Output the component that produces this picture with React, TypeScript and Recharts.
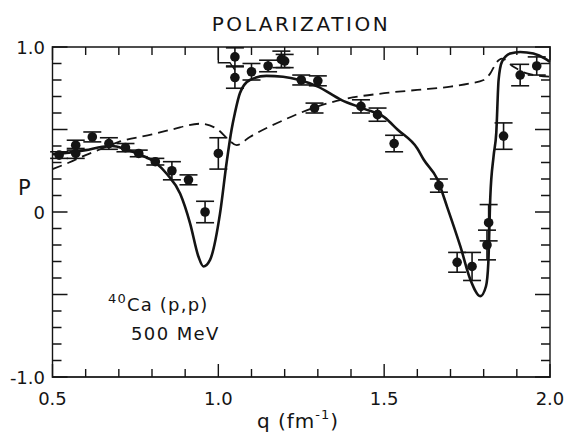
import { ComposedChart, ErrorBar, Line, Scatter, XAxis, YAxis } from "recharts";

// q (fm^-1), P
const solidCurve = [
  { q: 0.5, p: 0.35 }, { q: 0.55, p: 0.36 }, { q: 0.6, p: 0.375 }, { q: 0.65, p: 0.395 },
  { q: 0.68, p: 0.4 }, { q: 0.72, p: 0.38 }, { q: 0.76, p: 0.35 }, { q: 0.81, p: 0.3 },
  { q: 0.845, p: 0.23 }, { q: 0.885, p: 0.11 }, { q: 0.915, p: -0.07 }, { q: 0.94, p: -0.27 },
  { q: 0.955, p: -0.33 }, { q: 0.975, p: -0.29 }, { q: 1.005, p: -0.01 }, { q: 1.025, p: 0.3 },
  { q: 1.04, p: 0.5 }, { q: 1.05, p: 0.6 }, { q: 1.065, p: 0.72 }, { q: 1.095, p: 0.8 },
  { q: 1.145, p: 0.825 }, { q: 1.195, p: 0.82 }, { q: 1.245, p: 0.8 }, { q: 1.3, p: 0.76 },
  { q: 1.37, p: 0.68 }, { q: 1.44, p: 0.625 }, { q: 1.5, p: 0.575 }, { q: 1.54, p: 0.5 },
  { q: 1.6, p: 0.385 }, { q: 1.62, p: 0.315 }, { q: 1.66, p: 0.2 }, { q: 1.69, p: 0.03 },
  { q: 1.73, p: -0.21 }, { q: 1.76, p: -0.41 }, { q: 1.79, p: -0.51 }, { q: 1.807, p: -0.45 },
  { q: 1.814, p: -0.31 }, { q: 1.82, p: 0.09 }, { q: 1.83, p: 0.34 }, { q: 1.838, p: 0.48 },
  { q: 1.845, p: 0.8 }, { q: 1.855, p: 0.91 }, { q: 1.88, p: 0.96 }, { q: 1.91, p: 0.97 },
  { q: 1.95, p: 0.96 }, { q: 1.985, p: 0.93 }, { q: 2.0, p: 0.91 },
];

const dashedCurve = [
  { q: 0.5, p: 0.26 }, { q: 0.55, p: 0.3 }, { q: 0.6, p: 0.345 }, { q: 0.65, p: 0.385 },
  { q: 0.7, p: 0.425 }, { q: 0.8, p: 0.47 }, { q: 0.86, p: 0.5 }, { q: 0.945, p: 0.535 },
  { q: 0.995, p: 0.505 }, { q: 1.035, p: 0.43 }, { q: 1.055, p: 0.405 }, { q: 1.095, p: 0.455 },
  { q: 1.2, p: 0.56 }, { q: 1.3, p: 0.64 }, { q: 1.37, p: 0.68 }, { q: 1.5, p: 0.72 },
  { q: 1.6, p: 0.74 }, { q: 1.7, p: 0.76 }, { q: 1.76, p: 0.78 }, { q: 1.8, p: 0.8 },
  { q: 1.82, p: 0.84 }, { q: 1.84, p: 0.91 }, { q: 1.855, p: 0.93 }, { q: 1.89, p: 0.88 },
  { q: 1.93, p: 0.84 }, { q: 2.0, p: 0.82 },
];

const staircase = [
  { q: 1.0, p: 1.0 }, { q: 1.0, p: 0.905 }, { q: 1.035, p: 0.905 }, { q: 1.05, p: 0.86 },
];

const measured = [
  { q: 0.52, p: 0.345, err: 0.02 }, { q: 0.57, p: 0.405, err: 0.03 }, { q: 0.57, p: 0.355, err: 0.03 },
  { q: 0.62, p: 0.455, err: 0.03 }, { q: 0.67, p: 0.415, err: 0.035 }, { q: 0.72, p: 0.39, err: 0.025 },
  { q: 0.76, p: 0.355, err: 0.02 }, { q: 0.81, p: 0.305, err: 0.02 }, { q: 0.86, p: 0.25, err: 0.055 },
  { q: 0.91, p: 0.195, err: 0.03 }, { q: 0.96, p: 0.0, err: 0.065 }, { q: 1.0, p: 0.355, err: 0.095 },
  { q: 1.05, p: 0.94, err: 0.055 }, { q: 1.05, p: 0.815, err: 0.065 }, { q: 1.1, p: 0.85, err: 0.05 },
  { q: 1.15, p: 0.885, err: 0.035 }, { q: 1.19, p: 0.925, err: 0.05 }, { q: 1.2, p: 0.915, err: 0.04 },
  { q: 1.25, p: 0.8, err: 0.03 }, { q: 1.3, p: 0.795, err: 0.03 }, { q: 1.29, p: 0.63, err: 0.03 },
  { q: 1.43, p: 0.64, err: 0.04 }, { q: 1.48, p: 0.59, err: 0.04 }, { q: 1.53, p: 0.415, err: 0.05 },
  { q: 1.665, p: 0.16, err: 0.04 }, { q: 1.72, p: -0.305, err: 0.06 }, { q: 1.765, p: -0.33, err: 0.085 },
  { q: 1.81, p: -0.2, err: 0.09 }, { q: 1.815, p: -0.065, err: 0.11 }, { q: 1.86, p: 0.46, err: 0.08 },
  { q: 1.91, p: 0.83, err: 0.065 }, { q: 1.96, p: 0.885, err: 0.055 },
];

const xTicks = [0.5, 0.6, 0.7, 0.8, 0.9, 1.0, 1.1, 1.2, 1.3, 1.4, 1.5, 1.6, 1.7, 1.8, 1.9, 2.0];
const xLabelValues = [0.5, 1.0, 1.5, 2.0];
const xLabelText = ["0.5", "1.0", "1.5", "2.0"];

const yTicks = [
  -1.0, -0.9, -0.8, -0.7, -0.6, -0.5, -0.4, -0.3, -0.2, -0.1, 0,
  0.1, 0.2, 0.3, 0.4, 0.5, 0.6, 0.7, 0.8, 0.9, 1.0,
];
const yMajorValues = [-1.0, -0.5, 0, 0.5, 1.0];
const yLabelValues = [-1.0, 0, 1.0];
const yLabelText = ["-1.0", "0", "1.0"];

const FONT = "DejaVu Sans, sans-serif";
const INK = "#141414";

// plot box is 497.5 x 330 px; used to turn tick lengths (px) into data units
const PX_PER_Q = 497.5 / 1.5;
const PX_PER_P = 330 / 2;

const find = (list: number[], v: number) => list.findIndex((l) => Math.abs(l - v) < 1e-6);
const xTickLen = (q: number) => (find(xLabelValues, q) >= 0 ? 13 : 8) / PX_PER_P;
const yTickLen = (p: number) => (find(yMajorValues, p) >= 0 ? 15 : 9) / PX_PER_Q;

// frame edges with inward tick spikes, drawn as polylines through the chart scales
const bottomEdge = xTicks.flatMap((q) => [{ q, p: -1 }, { q, p: -1 + xTickLen(q) }, { q, p: -1 }]);
const topEdge = xTicks.flatMap((q) => [{ q, p: 1 }, { q, p: 1 - xTickLen(q) }, { q, p: 1 }]);
const leftEdge = yTicks.flatMap((p) => [{ q: 0.5, p }, { q: 0.5 + yTickLen(p), p }, { q: 0.5, p }]);
const rightEdge = yTicks.flatMap((p) => [{ q: 2.0, p }, { q: 2.0 - yTickLen(p), p }, { q: 2.0, p }]);

const dot = (props: any) => <circle cx={props.cx} cy={props.cy} r={4.8} fill={INK} />;

// tick text sits tickSize (6) + default tickMargin (2) away from the frame
const BottomTick = ({ x, y, payload }: any) => {
  const i = find(xLabelValues, payload.value);
  return (
    <g>
      {i >= 0 && (
        <text x={x} y={y + 20} textAnchor="middle" fontSize={18} fontFamily={FONT} fill={INK}>
          {xLabelText[i]}
        </text>
      )}
    </g>
  );
};

const LeftTick = ({ x, y, payload }: any) => {
  const i = find(yLabelValues, payload.value);
  return (
    <g>
      {i >= 0 && (
        <text x={x + 0.5} y={y + 7} textAnchor="end" fontSize={18} fontFamily={FONT} fill={INK}>
          {yLabelText[i]}
        </text>
      )}
    </g>
  );
};

// title, axis names and the annotation, drawn inside the chart svg
const Captions = () => (
  <g fontFamily={FONT} fill={INK}>
    <text x={301} y={31} textAnchor="middle" fontSize={20} letterSpacing={2.6}>
      POLARIZATION
    </text>
    <text x={18} y={195} fontSize={21}>
      P
    </text>
    <text x={108} y={311} fontSize={18} letterSpacing={1.2}>
      <tspan fontSize={13} dy={-8}>40</tspan>
      <tspan dy={8}>Ca (p,p)</tspan>
    </text>
    <text x={131} y={340} fontSize={18} letterSpacing={1.4}>
      500 MeV
    </text>
    <text x={298} y={428} textAnchor="middle" fontSize={20} letterSpacing={1}>
      <tspan>q (fm</tspan>
      <tspan fontSize={13} dy={-9}>-1</tspan>
      <tspan dy={9}>)</tspan>
    </text>
  </g>
);

const edgeProps = {
  dataKey: "p",
  type: "linear" as const,
  stroke: INK,
  strokeWidth: 1.4,
  dot: false,
  activeDot: false,
  isAnimationActive: false,
};

export default function App() {
  return (
    <div style={{ position: "absolute", left: 0, top: 0, width: 564, height: 438, background: "#fff" }}>
      <ComposedChart width={564} height={438} margin={{ top: 47, right: 14, bottom: 0, left: 0 }}>
        <XAxis
          type="number"
          dataKey="q"
          domain={[0.5, 2.0]}
          ticks={xTicks}
          interval={0}
          height={61}
          tickSize={6}
          tickLine={{ stroke: "transparent" }}
          tick={<BottomTick />}
          stroke={INK}
        />
        <YAxis
          type="number"
          dataKey="p"
          domain={[-1, 1]}
          ticks={yTicks}
          interval={0}
          width={52.5}
          tickSize={6}
          tickLine={{ stroke: "transparent" }}
          tick={<LeftTick />}
          stroke={INK}
          label={<Captions />}
        />
        <Line data={bottomEdge} {...edgeProps} />
        <Line data={topEdge} {...edgeProps} />
        <Line data={leftEdge} {...edgeProps} />
        <Line data={rightEdge} {...edgeProps} />
        <Line
          data={dashedCurve}
          dataKey="p"
          type="monotone"
          stroke={INK}
          strokeWidth={1.8}
          strokeDasharray="10 6"
          dot={false}
          isAnimationActive={false}
        />
        <Line
          data={solidCurve}
          dataKey="p"
          type="monotone"
          stroke={INK}
          strokeWidth={2.6}
          dot={false}
          isAnimationActive={false}
        />
        <Line
          data={staircase}
          dataKey="p"
          type="linear"
          stroke={INK}
          strokeWidth={1.4}
          dot={false}
          isAnimationActive={false}
        />
        <Scatter data={measured} dataKey="p" shape={dot} isAnimationActive={false}>
          <ErrorBar dataKey="err" direction="y" width={9} stroke={INK} strokeWidth={1.6} />
        </Scatter>
      </ComposedChart>
    </div>
  );
}
